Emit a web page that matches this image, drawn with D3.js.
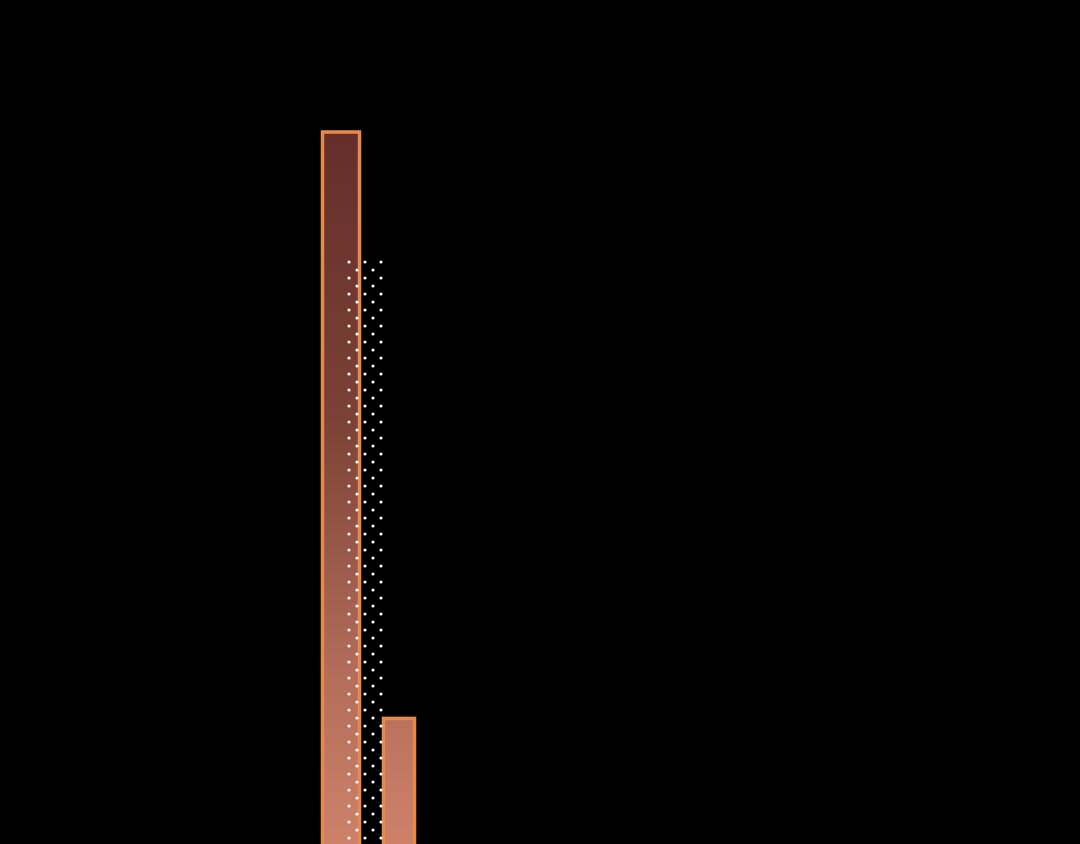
<!doctype html>
<html>
<head>
    <meta charset="utf-8">
    <style>
        html, body {
            margin: 0;
            padding: 0;
            background: #000;
        }

        svg {
            display: block;
        }

        .bar {
            stroke: #e8894c;
            stroke-width: 3.5;
        }
    </style>
    <script src="https://cdn.jsdelivr.net/npm/d3@7"></script>
</head>
<body>
<svg width="1080" height="844"></svg>
<script>
    // data
    const categories = ['A', 'B'];
    const barValues = [96, 22.7];
    const targetCategories = ['A'];
    const targetValues = [80.25];

    const svg = d3.select('svg');

    const width = 1080;
    const height = 844;

    // baseline sits below the visible area, as in the reference
    const yScale = d3.scaleLinear()
        .domain([0, 100])
        .range([900, 100]);

    const xScale = d3.scaleBand()
        .domain(categories)
        .range([322.5, 417.5])
        .paddingInner(21 / 58)
        .paddingOuter(0);

    const bw = xScale.bandwidth();

    // narrower outline for the second bar
    const barInset = [0, 3];

    const defs = svg.append('defs');

    const grad = defs.append('linearGradient')
        .attr('id', 'barFill')
        .attr('gradientUnits', 'userSpaceOnUse')
        .attr('x1', 0).attr('x2', 0)
        .attr('y1', yScale(96)).attr('y2', height);

    grad.append('stop').attr('offset', '0%').attr('stop-color', '#652e2a');
    grad.append('stop').attr('offset', '40%').attr('stop-color', '#7b4136');
    grad.append('stop').attr('offset', '75%').attr('stop-color', '#b26c59');
    grad.append('stop').attr('offset', '100%').attr('stop-color', '#cd8169');

    const pat = defs.append('pattern')
        .attr('id', 'dots')
        .attr('patternUnits', 'userSpaceOnUse')
        .attr('width', 16)
        .attr('height', 16);

    pat.append('circle').attr('cx', 13).attr('cy', 6).attr('r', 1.6).attr('fill', '#fff');
    pat.append('circle').attr('cx', 5).attr('cy', 14).attr('r', 1.6).attr('fill', '#fff');

    const data = categories.map((c, i) => ({ cat: c, value: barValues[i], inset: barInset[i] }));

    svg.selectAll('rect.bar')
        .data(data)
        .enter()
        .append('rect')
        .attr('class', 'bar')
        .attr('x', (d) => xScale(d.cat) + d.inset)
        .attr('y', (d) => yScale(d.value))
        .attr('width', (d) => bw - 2 * d.inset)
        .attr('height', (d) => yScale(0) - yScale(d.value))
        .attr('fill', 'url(#barFill)');

    const targets = targetCategories.map((c, i) => ({ cat: c, value: targetValues[i] }));

    // dotted target overlay, shifted right of its bar
    svg.selectAll('rect.target')
        .data(targets)
        .enter()
        .append('rect')
        .attr('class', 'target')
        .attr('x', (d) => xScale(d.cat) + xScale.step() * 0.388)
        .attr('y', (d) => yScale(d.value))
        .attr('width', xScale.step() * 0.69)
        .attr('height', (d) => yScale(0) - yScale(d.value))
        .attr('fill', 'url(#dots)');
</script>
</body>
</html>
